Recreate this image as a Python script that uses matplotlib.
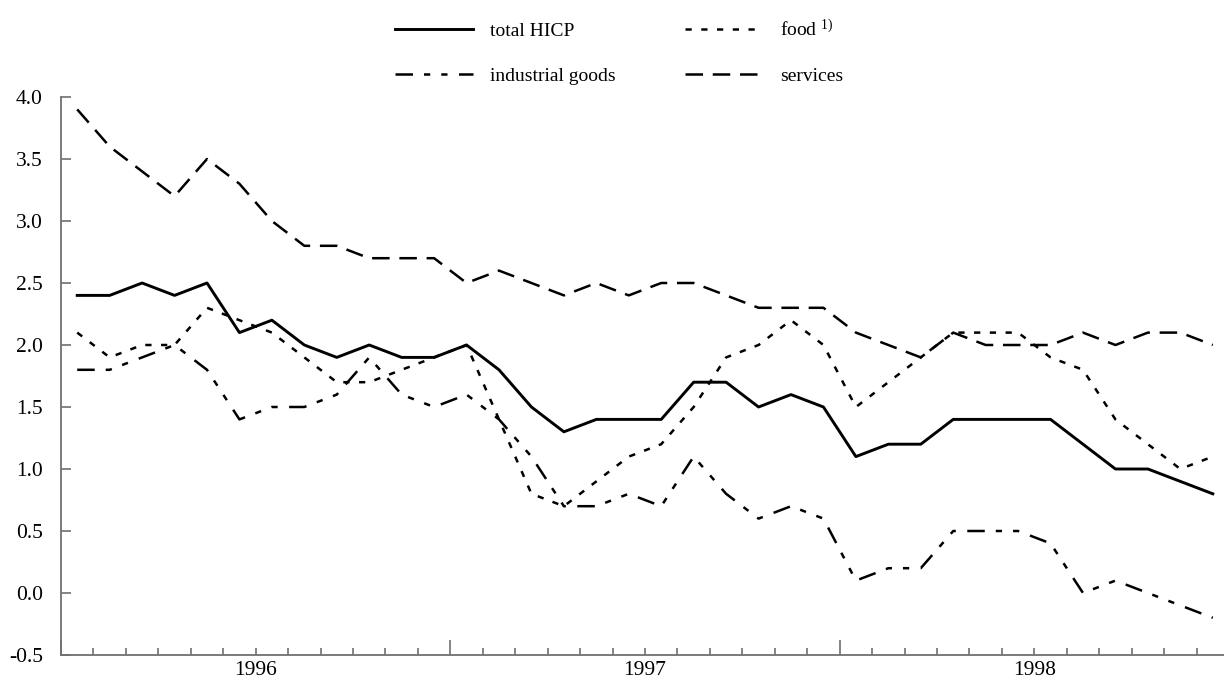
import matplotlib
matplotlib.use("Agg")
import matplotlib.pyplot as plt
import numpy as np

# Monthly annual rates of change, Jan 1996 - Dec 1998
years = ["1996", "1997", "1998"]

total_hicp = [2.4, 2.4, 2.5, 2.4, 2.5, 2.1, 2.2, 2.0, 1.9, 2.0, 1.9, 1.9,
              2.0, 1.8, 1.5, 1.3, 1.4, 1.4, 1.4, 1.7, 1.7, 1.5, 1.6, 1.5,
              1.1, 1.2, 1.2, 1.4, 1.4, 1.4, 1.4, 1.2, 1.0, 1.0, 0.9, 0.8]
food = [2.1, 1.9, 2.0, 2.0, 2.3, 2.2, 2.1, 1.9, 1.7, 1.7, 1.8, 1.9,
        2.0, 1.4, 0.8, 0.7, 0.9, 1.1, 1.2, 1.5, 1.9, 2.0, 2.2, 2.0,
        1.5, 1.7, 1.9, 2.1, 2.1, 2.1, 1.9, 1.8, 1.4, 1.2, 1.0, 1.1]
industrial_goods = [1.8, 1.8, 1.9, 2.0, 1.8, 1.4, 1.5, 1.5, 1.6, 1.9, 1.6, 1.5,
                    1.6, 1.4, 1.1, 0.7, 0.7, 0.8, 0.7, 1.1, 0.8, 0.6, 0.7, 0.6,
                    0.1, 0.2, 0.2, 0.5, 0.5, 0.5, 0.4, 0.0, 0.1, 0.0, -0.1, -0.2]
services = [3.9, 3.6, 3.4, 3.2, 3.5, 3.3, 3.0, 2.8, 2.8, 2.7, 2.7, 2.7,
            2.5, 2.6, 2.5, 2.4, 2.5, 2.4, 2.5, 2.5, 2.4, 2.3, 2.3, 2.3,
            2.1, 2.0, 1.9, 2.1, 2.0, 2.0, 2.0, 2.1, 2.0, 2.1, 2.1, 2.0]

plt.rcParams["font.family"] = ["Liberation Serif", "DejaVu Serif"]
plt.rcParams["mathtext.fontset"] = "custom"
plt.rcParams["mathtext.rm"] = "Liberation Serif"
plt.rcParams["mathtext.it"] = "Liberation Serif"

W, H = 1224, 680
fig = plt.figure(figsize=(W / 100, H / 100), dpi=100)
# axes runs a little past the right edge, as in the original
ax = fig.add_axes([61 / W, 25 / H, 1168 / W, 558 / H])

n = len(total_hicp)
x = np.arange(n) + 0.5

ax.plot(x, total_hicp, color="black", lw=2.1, label="total HICP")
ax.plot(x, industrial_goods, color="black", lw=1.8,
        linestyle=(0, (7, 4.4, 2.5, 4.4, 2.5, 4.6)), label="industrial goods")
ax.plot(x, food, color="black", lw=1.8,
        linestyle=(0, (2.5, 3.8)), label="food $^{1)}$")
ax.plot(x, services, color="black", lw=1.8,
        linestyle=(0, (7, 3.9)), label="services")

ax.set_xlim(0, n)
ax.set_ylim(-0.5, 4.0)

for side in ["top", "right"]:
    ax.spines[side].set_visible(False)
for side in ["left", "bottom"]:
    ax.spines[side].set_color("#707070")
    ax.spines[side].set_linewidth(1.3)

yt = np.arange(-0.5, 4.01, 0.5)
ax.set_yticks(yt)
ax.set_yticklabels([f"{v:.1f}" for v in yt])
ax.tick_params(axis="y", direction="in", length=7, width=1.2, color="#707070",
               labelsize=15.5, pad=13)

# month ticks (minor) and year ticks (major), year labels in between
ax.set_xticks(np.arange(0, n + 1, 12))
ax.set_xticklabels([])
ax.set_xticks(np.arange(0, n + 1), minor=True)
ax.tick_params(axis="x", which="major", direction="in", length=11, width=1.2,
               color="#707070")
ax.tick_params(axis="x", which="minor", direction="in", length=5, width=1.2,
               color="#707070")
for k, yr in enumerate(years):
    ax.text(12 * k + 6, -0.036, yr, transform=ax.get_xaxis_transform(),
            ha="center", va="baseline", fontsize=15.5)

fig.legend(loc="upper left", bbox_to_anchor=(395 / W, 1 - 19 / H),
           ncol=2, frameon=False, fontsize=14, handlelength=4.0,
           handletextpad=0.87, columnspacing=3.6, labelspacing=1.4,
           borderpad=0, borderaxespad=0)

fig.savefig("out.png", dpi=100)
